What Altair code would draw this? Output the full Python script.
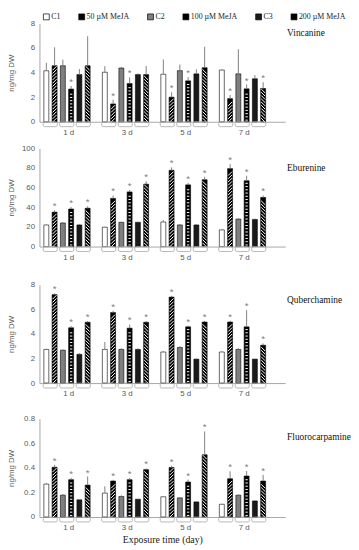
import altair as alt
import pandas as pd

days = ["1 d", "3 d", "5 d", "7 d"]
series = ["C1", "50 µM MeJA", "C2", "100 µM MeJA", "C3", "200 µM MeJA"]
pairs = ["pair 1", "pair 2", "pair 3"]
compounds = ["Vincanine", "Eburenine", "Quberchamine", "Fluorocarpamine"]

# means per day (rows) in series order (columns)
vin_mean = [[4.15, 4.56, 4.56, 2.66, 3.84, 4.56],
            [4.03, 1.45, 4.37, 3.11, 3.84, 3.84],
            [3.87, 2.00, 4.16, 3.33, 3.90, 4.40],
            [4.21, 1.88, 3.90, 2.68, 3.50, 2.71]]
vin_err = [[0.65, 1.50, 0.50, 0.25, 0.45, 2.40],
           [0.50, 0.35, 0.10, 0.50, 0.10, 0.70],
           [1.20, 0.40, 0.50, 0.30, 0.37, 1.70],
           [0.05, 0.30, 2.00, 0.35, 0.30, 0.50]]
vin_sig = [[0, 0, 0, 1, 0, 0], [0, 1, 0, 1, 0, 0], [0, 1, 0, 1, 0, 0], [0, 1, 0, 1, 0, 1]]

ebu_mean = [[22.0, 35.0, 24.0, 38.2, 22.0, 39.0],
            [19.7, 49.0, 24.7, 55.6, 24.7, 63.5],
            [25.0, 77.6, 22.0, 62.8, 22.0, 68.0],
            [17.0, 79.3, 28.0, 67.0, 27.6, 50.0]]
ebu_err = [[0.5, 2.0, 1.0, 2.0, 1.0, 2.0],
           [0.5, 3.0, 0.5, 2.0, 0.5, 3.0],
           [2.0, 3.0, 1.0, 2.0, 1.0, 3.0],
           [0.5, 4.5, 0.5, 5.0, 1.0, 2.0]]
ebu_sig = [[0, 1, 0, 1, 0, 1]] * 4

qub_mean = [[2.74, 7.20, 2.68, 4.50, 2.34, 4.95],
            [2.74, 5.74, 2.74, 4.47, 2.74, 4.95],
            [2.53, 7.00, 2.90, 4.58, 1.95, 4.97],
            [2.53, 4.97, 2.74, 4.58, 1.95, 3.08]]
qub_err = [[0.05, 0.10, 0.05, 0.15, 0.10, 0.10],
           [0.60, 0.15, 0.10, 0.30, 0.10, 0.10],
           [0.05, 0.10, 0.10, 0.10, 0.02, 0.10],
           [0.05, 0.10, 0.10, 1.35, 0.02, 0.15]]
qub_sig = [[0, 1, 0, 1, 0, 1]] * 4

flu_mean = [[0.268, 0.405, 0.178, 0.304, 0.140, 0.260],
            [0.195, 0.293, 0.167, 0.304, 0.145, 0.386],
            [0.165, 0.403, 0.156, 0.285, 0.123, 0.507],
            [0.104, 0.312, 0.178, 0.334, 0.131, 0.293]]
flu_err = [[0.010, 0.020, 0.010, 0.015, 0.003, 0.070],
           [0.055, 0.010, 0.010, 0.015, 0.003, 0.010],
           [0.003, 0.015, 0.005, 0.020, 0.003, 0.190],
           [0.003, 0.060, 0.005, 0.040, 0.003, 0.050]]
flu_sig = [[0, 1, 0, 1, 0, 1]] * 4

means_all = [vin_mean, ebu_mean, qub_mean, flu_mean]
errs_all = [vin_err, ebu_err, qub_err, flu_err]
sigs_all = [vin_sig, ebu_sig, qub_sig, flu_sig]
y_max = [8, 100, 8, 0.8]
y_ticks = [[0, 2, 4, 6, 8], [0, 20, 40, 60, 80, 100], [0, 2, 4, 6, 8], [0, 0.2, 0.4, 0.6, 0.8]]
y_fmt = ["d", "d", "d", ".1~f"]

fill_colors = ["#ffffff", "#000000", "#7f7f7f", "#000000", "#1a1a1a", "#000000"]
hatch_shapes = {"50 µM MeJA": "M-1,1L1,-1", "100 µM MeJA": "M-0.6,0L0.6,0", "200 µM MeJA": "M-1,-1L1,1"}

W, H = 250, 100
legend_y = [-11, -6.5, -10, -10]
name_y = [9.7, 20.4, 15.7, 18.7]

SANS = "Liberation Sans"
SERIF = "Liberation Serif"
GRAY = "#595959"


def panel(idx):
    last = idx == 3
    rows = []
    for d, day in enumerate(days):
        for s, ser in enumerate(series):
            m = means_all[idx][d][s]
            e = errs_all[idx][d][s]
            rows.append({"day": day, "series": ser, "mean": m, "top": m + e,
                         "star": "*" if sigs_all[idx][d][s] else ""})
    df = pd.DataFrame(rows)

    step = y_max[idx] * 3.3 / H
    half = y_max[idx] * 2.2 / H
    srows = []
    for r in rows:
        if r["series"] in hatch_shapes:
            k = 0
            while (k + 0.5) * step + half <= r["mean"]:
                srows.append({"day": r["day"], "series": r["series"], "y": (k + 0.5) * step})
                k += 1
    sdf = pd.DataFrame(srows)
    bdf = pd.DataFrame([{"day": d, "pair": p} for d in days for p in pairs])
    ndf = pd.DataFrame({"name": [compounds[idx]]})

    day_scale = alt.Scale(domain=days, paddingInner=0, paddingOuter=0.1, align=0)
    slot_scale = alt.Scale(domain=series, paddingInner=0.4, paddingOuter=0.74, align=0.36)
    pair_scale = alt.Scale(domain=pairs, paddingInner=0.15, paddingOuter=0.346, align=0.33)
    yscale = alt.Scale(domain=[0, y_max[idx]], nice=False)

    xaxis = alt.Axis(title="Exposure time (day)" if last else None, labelAngle=0, ticks=False,
                     domainColor="#a6a6a6", labelFont=SANS, labelFontSize=8, labelColor=GRAY,
                     labelPadding=7, titleFont=SERIF, titleFontSize=10, titleFontWeight="normal",
                     titleColor="#222222", titlePadding=3)
    yaxis = alt.Axis(values=y_ticks[idx], format=y_fmt[idx], title="ng/mg DW", ticks=False, grid=False,
                     domainColor="#a6a6a6", labelFont=SANS, labelFontSize=8, labelColor=GRAY,
                     labelPadding=5, minExtent=18, maxExtent=18, titleFont=SANS, titleFontSize=8,
                     titleFontWeight="normal", titleColor=GRAY, titlePadding=6)
    xenc = alt.X("day:N", scale=day_scale, sort=days, axis=xaxis)
    xoff = alt.XOffset("series:N", scale=slot_scale, sort=series)

    bars = alt.Chart(df).mark_bar(stroke="black", strokeWidth=0.6).encode(
        x=xenc, xOffset=xoff,
        y=alt.Y("mean:Q", scale=yscale, axis=yaxis),
        fill=alt.Fill("series:N", scale=alt.Scale(domain=series, range=fill_colors), sort=series,
                      legend=alt.Legend(title=None, orient="none", legendX=3, legendY=legend_y[idx],
                                        direction="horizontal", symbolType="square", symbolSize=36,
                                        symbolStrokeColor="black", symbolStrokeWidth=0.7,
                                        labelFont=SERIF, labelFontSize=8, labelColor="#222222",
                                        labelOffset=1, columnPadding=16, padding=0)),
    )
    stripes = alt.Chart(sdf).mark_point(filled=False, stroke="white", strokeWidth=1, size=16, opacity=1).encode(
        x=xenc, xOffset=xoff,
        y=alt.Y("y:Q", scale=yscale, axis=yaxis),
        shape=alt.Shape("series:N", scale=alt.Scale(domain=list(hatch_shapes), range=list(hatch_shapes.values())),
                        legend=None),
    )
    errbars = alt.Chart(df).mark_rule(color="#808080", strokeWidth=1).encode(
        x=xenc, xOffset=xoff,
        y=alt.Y("mean:Q", scale=yscale, axis=yaxis), y2="top:Q",
    )
    stars = alt.Chart(df).transform_filter("datum.star != ''").mark_text(
        font=SANS, fontSize=10, color="#7f7f7f", baseline="middle", dy=-4).encode(
        x=xenc, xOffset=xoff,
        y=alt.Y("top:Q", scale=yscale, axis=yaxis), text="star:N",
    )
    main = alt.layer(bars, stripes, errbars, stars)

    brackets = alt.Chart(bdf).mark_rect(fill="white", fillOpacity=0, stroke="#a6a6a6", strokeWidth=0.8,
                                        cornerRadius=1.5).encode(
        x=xenc, xOffset=alt.XOffset("pair:N", scale=pair_scale, sort=pairs),
        y=alt.value(H), y2=alt.value(H + 5),
    )
    name = alt.Chart(ndf).mark_text(align="left", baseline="middle", font=SERIF, fontSize=9.5,
                                    color="#111111").encode(
        text="name:N", x=alt.value(W + 2), y=alt.value(name_y[idx]))

    return alt.layer(main, brackets, name).resolve_scale(xOffset="independent").properties(width=W, height=H)


top = alt.vconcat(panel(0), panel(1), spacing=8)
bottom = alt.vconcat(panel(2), panel(3), spacing=17.3)
chart = alt.vconcat(top, bottom, spacing=19.9).properties(padding=0).configure_view(stroke=None)

chart.save("out.html", embed_options={"renderer": "svg", "actions": False})
